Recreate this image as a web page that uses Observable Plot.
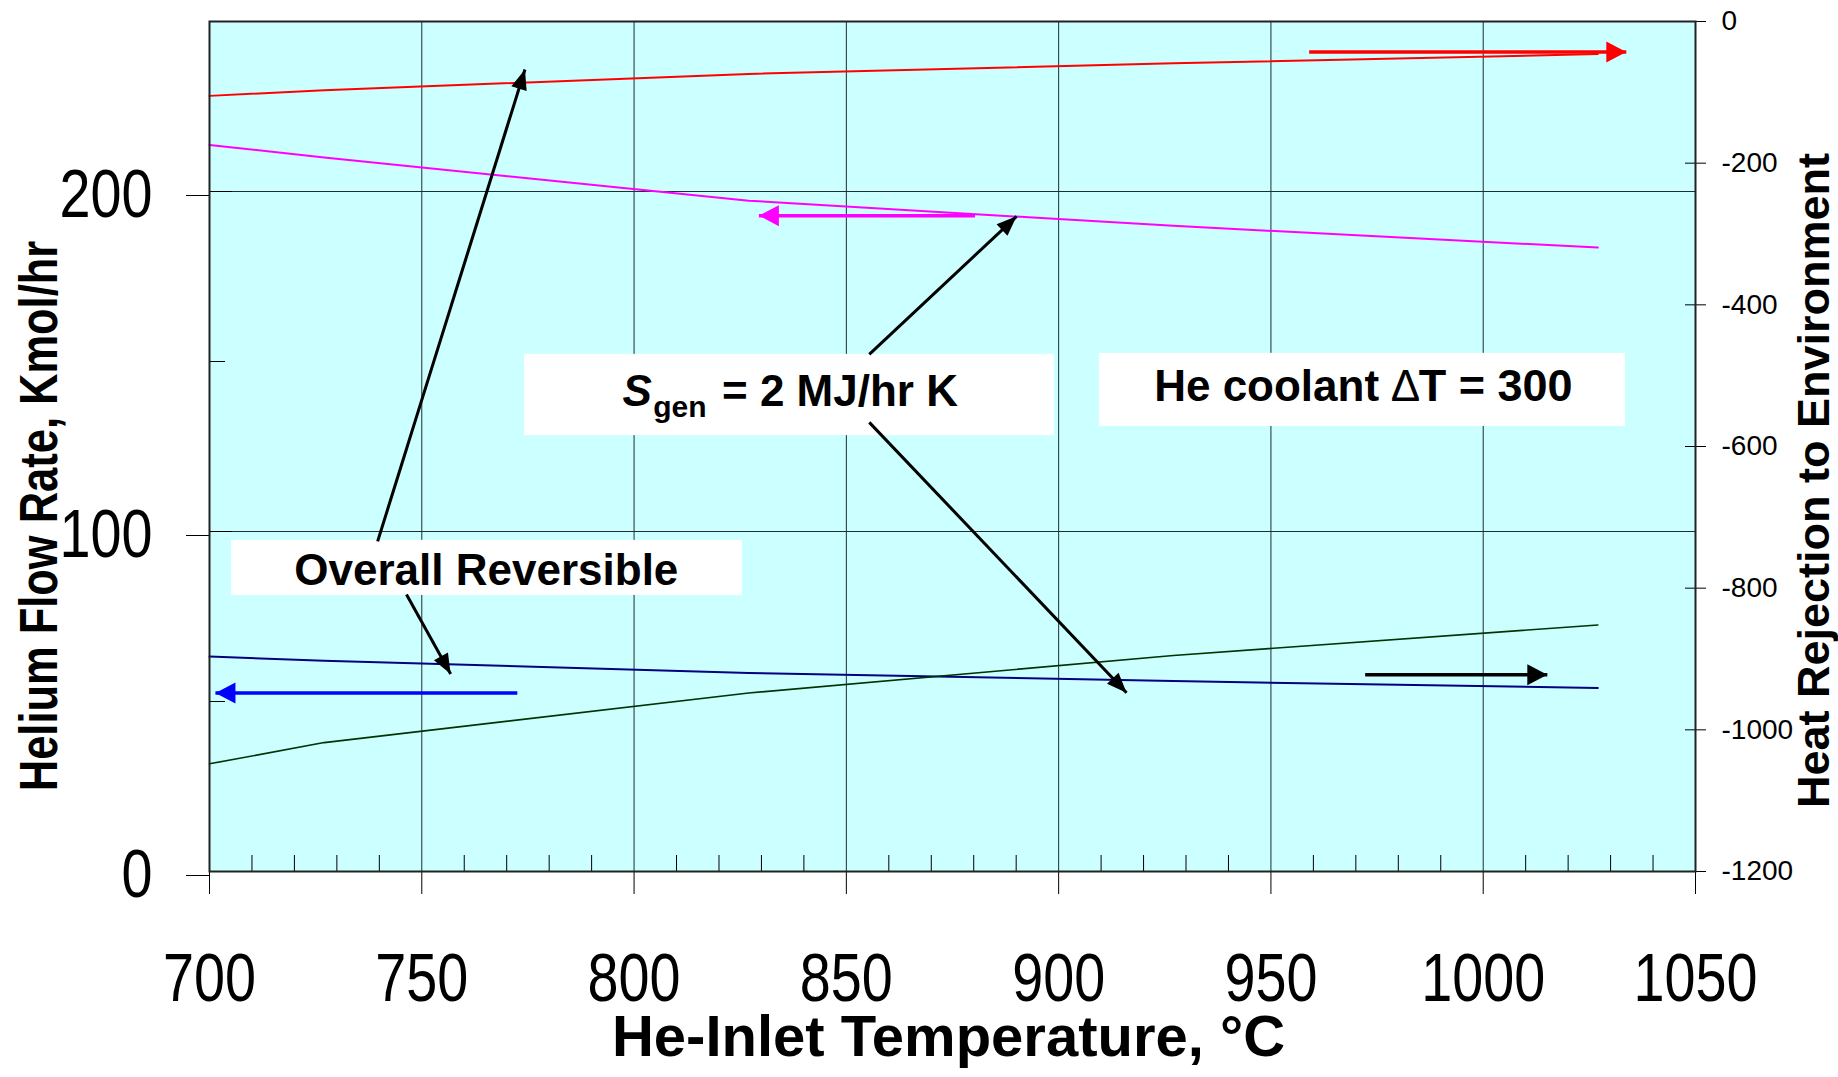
<!DOCTYPE html>
<html><head><meta charset="utf-8">
<script src="https://cdn.jsdelivr.net/npm/d3@7"></script>
<script src="https://cdn.jsdelivr.net/npm/@observablehq/plot@0.6"></script>
<style>
html,body{margin:0;padding:0;background:#fff;overflow:hidden;}
#chart svg{display:block;}
</style></head><body><div id="chart"></div>
<script>
// ---------- data ----------
const temperatures = [700, 727, 827, 927, 1027];               // He-inlet temperature, °C
const flowOverallReversible = [63.2, 62.0, 58.4, 56.0, 54.0];  // left axis (blue)
const flowSgen2 = [213.7, 210.0, 197.3, 189.9, 183.5];         // left axis (magenta)
const heatOverallReversible = [-105, -97, -74, -59, -46];      // right axis (red)
const heatSgen2 = [-1048, -1018, -948, -895, -852];            // right axis (green)

const xTickValues = [700, 750, 800, 850, 900, 950, 1000, 1050];
const xGridValues = [750, 800, 850, 900, 950, 1000];
const yLeftTicks = [0, 100, 200];
const yLeftMinor = [50, 150];
const yRightTicks = [0, -200, -400, -600, -800, -1000, -1200];

// annotation geometry (data units: °C, left-axis units)
const noteBoxes = [
  {x1: 774.2, x2: 899.0, y1: 128.2, y2: 152.1},
  {x1: 909.6, x2: 1033.5, y1: 130.9, y2: 152.4},
  {x1: 705.2, x2: 825.5, y1: 81.2, y2: 97.4}
];
const pointerArrows = [
  {x1: 739.6, y1: 97.1, x2: 774.3, y2: 235.9},
  {x1: 746.4, y1: 81.5, x2: 756.8, y2: 58.1},
  {x1: 855.4, y1: 152.1, x2: 890.1, y2: 192.7},
  {x1: 855.4, y1: 132.1, x2: 916.0, y2: 52.6}
];
const redAxisArrow = [{x1: 959.0, x2: 1033.7, y: 241.0}];
const magentaAxisArrow = [{x1: 880.3, x2: 829.4, y: 192.9}];
const blueAxisArrow = [{x1: 772.5, x2: 701.4, y: 52.5}];
const blackAxisArrow = [{x1: 972.2, x2: 1015.1, y: 57.9}];

// ---------- helpers ----------
const RIGHT_MIN = -1200, RIGHT_MAX = 0, LEFT_MAX = 250;
const toLeft = v => (v - RIGHT_MIN) / (RIGHT_MAX - RIGHT_MIN) * LEFT_MAX;
const fromLeft = y => RIGHT_MIN + y / LEFT_MAX * (RIGHT_MAX - RIGHT_MIN);

const rows = temperatures.map((t, i) => ({
  t,
  flowRev: flowOverallReversible[i],
  flowSgen: flowSgen2[i],
  heatRev: toLeft(heatOverallReversible[i]),
  heatSgen: toLeft(heatSgen2[i])
}));

const sans = "'Liberation Sans',Arial,Helvetica,sans-serif";
const SVGNS = "http://www.w3.org/2000/svg";

function head(len, wid) {
  return (color, context) => {
    const doc = (context && context.document) || document;
    const m = doc.createElementNS(SVGNS, "marker");
    m.setAttribute("viewBox", `${-len} ${-wid / 2} ${len} ${wid}`);
    m.setAttribute("markerUnits", "userSpaceOnUse");
    m.setAttribute("markerWidth", len);
    m.setAttribute("markerHeight", wid);
    m.setAttribute("refX", 0);
    m.setAttribute("refY", 0);
    m.setAttribute("orient", "auto");
    m.setAttribute("overflow", "visible");
    const p = doc.createElementNS(SVGNS, "path");
    p.setAttribute("d", `M${-len},${-wid / 2}L0,0L${-len},${wid / 2}Z`);
    p.setAttribute("fill", color);
    p.setAttribute("stroke", "none");
    m.appendChild(p);
    return m;
  };
}

const axisArrow = (data, color) => Plot.link(data, {
  x1: "x1", x2: "x2", y1: "y", y2: "y",
  stroke: color, strokeWidth: 3.5, strokeLinecap: "butt",
  markerEnd: head(20, 21)
});

const note = (str, x, y, opts) => Plot.text([str], {x: () => x, y: () => y, lineAnchor: "bottom",
  fontWeight: "bold", fill: "#000", ...opts});

const chart = Plot.plot({
  width: 1838, height: 1077,
  marginTop: 21, marginRight: 143, marginBottom: 206, marginLeft: 209,
  x: {domain: [700, 1050]},
  y: {domain: [0, LEFT_MAX]},
  style: {background: "#fff", fontFamily: sans, color: "#000", overflow: "visible"},
  marks: [
    Plot.frame({fill: "#ccffff", stroke: "none"}),
    Plot.gridX({ticks: xGridValues, stroke: "#1e2e2e", strokeOpacity: 1, strokeWidth: 1}),
    Plot.gridY({ticks: [100, 200], stroke: "#1e2e2e", strokeOpacity: 1, strokeWidth: 1}),

    // series
    Plot.line(rows, {x: "t", y: "heatRev", stroke: "#ff0000", strokeWidth: 2}),
    Plot.line(rows, {x: "t", y: "flowSgen", stroke: "#ff00ff", strokeWidth: 2}),
    Plot.line(rows, {x: "t", y: "flowRev", stroke: "#000080", strokeWidth: 2}),
    Plot.line(rows, {x: "t", y: "heatSgen", stroke: "#003300", strokeWidth: 1.6}),

    // annotation boxes
    Plot.rect(noteBoxes, {x1: "x1", x2: "x2", y1: "y1", y2: "y2", fill: "#fff"}),

    // arrows
    Plot.link(pointerArrows, {x1: "x1", y1: "y1", x2: "x2", y2: "y2",
      stroke: "#000", strokeWidth: 3, strokeLinecap: "butt", markerEnd: head(20, 16)}),
    axisArrow(redAxisArrow, "#ff0000"),
    axisArrow(magentaAxisArrow, "#ff00ff"),
    axisArrow(blueAxisArrow, "#0000ff"),
    axisArrow(blackAxisArrow, "#000000"),

    // annotation text
    note("Overall Reversible", 765.2, 84.2, {textAnchor: "middle", fontSize: 44}),
    note("He coolant", 922.5, 138.5, {textAnchor: "start", fontSize: 44}),
    note("\u0394", 978.2, 138.5, {textAnchor: "start", fontSize: 44, fontWeight: "normal"}),
    note("T = 300", 984.8, 138.5, {textAnchor: "start", fontSize: 45}),
    note("S", 797.3, 136.8, {textAnchor: "start", fontSize: 44, fontStyle: "italic"}),
    note("gen", 804.5, 133.8, {textAnchor: "start", fontSize: 30}),
    note("= 2 MJ/hr K", 820.7, 136.8, {textAnchor: "start", fontSize: 44}),

    // axes
    Plot.axisX({ticks: xTickValues, tickSize: 23, tickPadding: 58.7, fontSize: 68, className: "narrow",
      tickFormat: d => String(d), label: null}),
    Plot.axisX({ticks: d3.range(700, 1050, 10).filter(d => d % 50 !== 0), tickSize: -16, fill: "none", label: null}),
    Plot.axisY({ticks: yLeftTicks, tickSize: 23, tickPadding: 34, fontSize: 68, className: "narrow",
      tickFormat: d => String(d), dy: 4, label: null}),
    Plot.axisY({ticks: yLeftTicks, tickSize: -23, fill: "none", label: null}),
    Plot.axisY({ticks: yLeftMinor, tickSize: -16, fill: "none", label: null}),
    Plot.axisY({anchor: "right", ticks: yRightTicks.map(toLeft), tickSize: 10, tickPadding: 16, fontSize: 28,
      tickFormat: d => String(Math.round(fromLeft(d))), label: null}),
    Plot.axisY({anchor: "right", ticks: yRightTicks.map(toLeft), tickSize: -11, fill: "none", label: null}),
    Plot.frame({stroke: "#222", strokeWidth: 2}),

    // axis titles
    Plot.text(["He-Inlet Temperature, \u00B0C"], {frameAnchor: "bottom", textAnchor: "middle", lineAnchor: "bottom",
      dx: -4, dy: 184, fontSize: 58, fontWeight: "bold", fill: "#000"}),
    Plot.text(["Helium Flow Rate, Kmol/hr"], {frameAnchor: "left", textAnchor: "middle", rotate: -90, lineAnchor: "bottom",
      dx: -153, dy: 69.5, fontSize: 53, fontWeight: "bold", fill: "#000", className: "narrow"}),
    Plot.text(["Heat Rejection to Environment"], {frameAnchor: "right", textAnchor: "middle", rotate: -90, lineAnchor: "bottom",
      dx: 133, dy: 34, fontSize: 45, fontWeight: "bold", fill: "#000"})
  ]
});

// condensed (Arial Narrow-like) look: compress glyphs horizontally around each text's anchor
chart.querySelectorAll(".narrow text").forEach(t => {
  const tr = t.getAttribute("transform") || "";
  t.setAttribute("transform", (tr + " scale(0.82,1)").trim());
});
document.getElementById("chart").appendChild(chart);
</script>
</body></html>
